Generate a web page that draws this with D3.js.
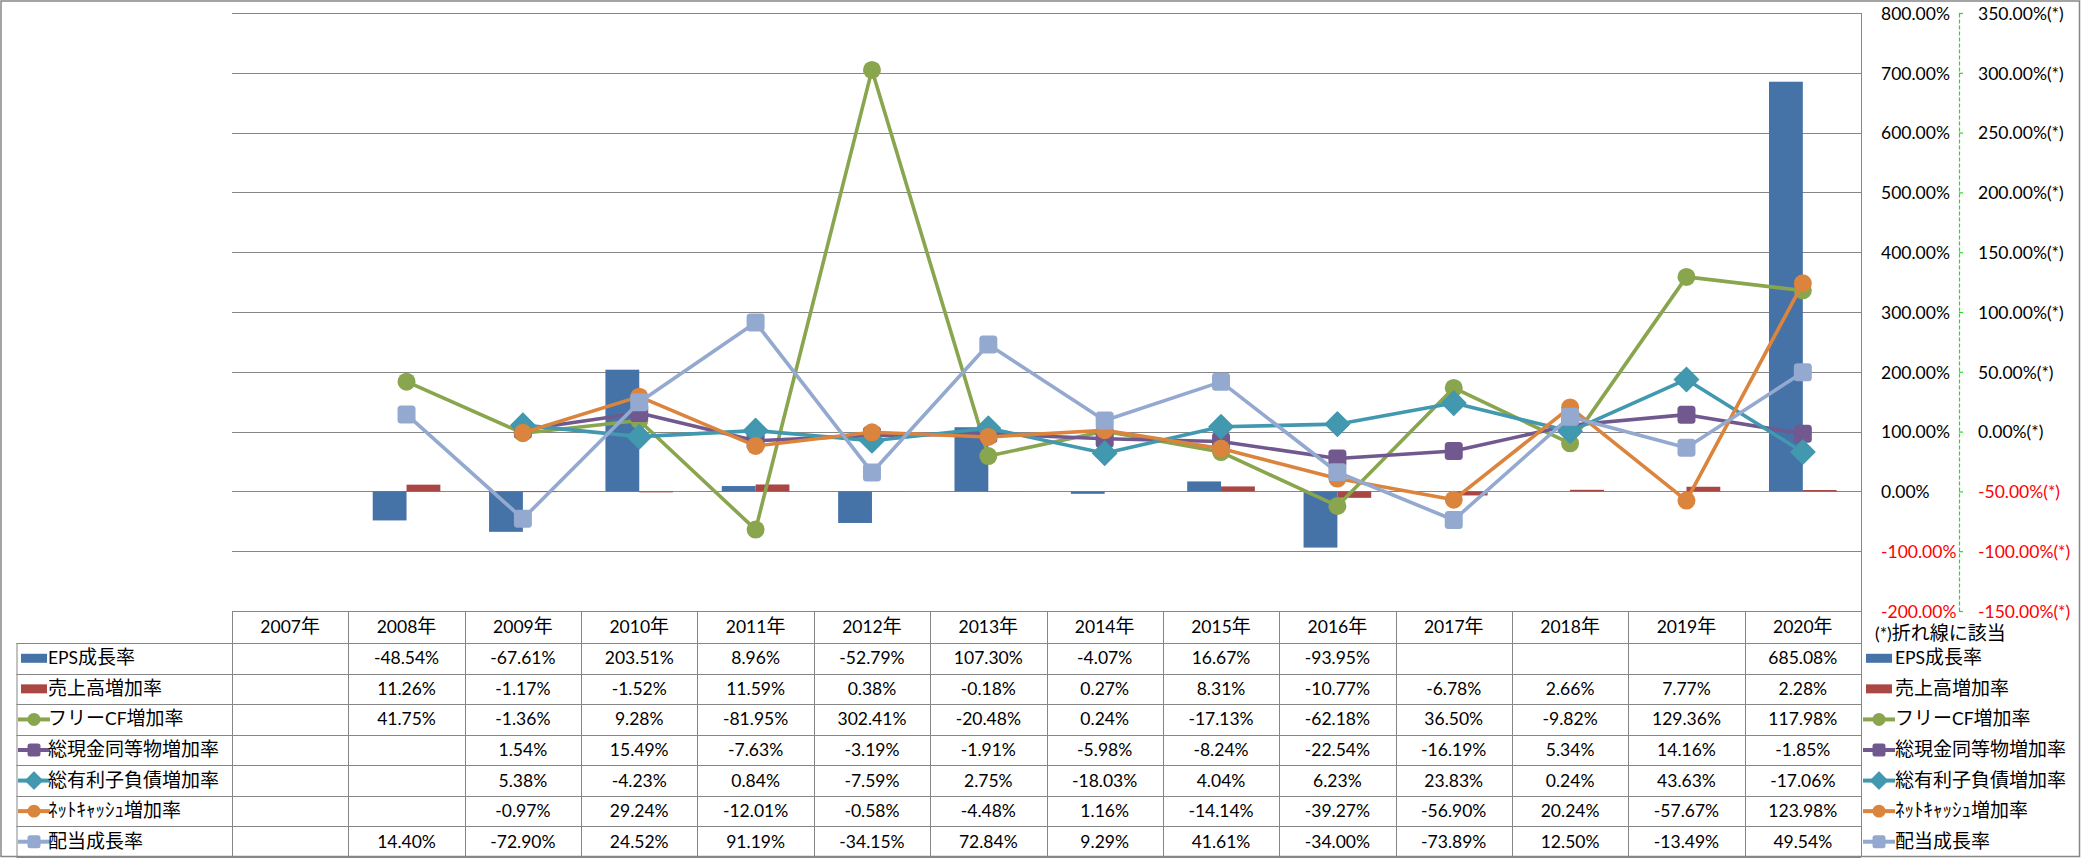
<!DOCTYPE html>
<html><head><meta charset="utf-8">
<script src="https://cdn.jsdelivr.net/npm/d3@7"></script>
<style>html,body{margin:0;padding:0;background:#fff;} svg{display:block;}</style>
</head><body>
<svg id="chart" width="2081" height="858"></svg>
<script>
// ---------- data ----------
const years = ["2007年","2008年","2009年","2010年","2011年","2012年","2013年","2014年","2015年","2016年","2017年","2018年","2019年","2020年"];
const epsGrowth      = [null,-48.54,-67.61,203.51,8.96,-52.79,107.30,-4.07,16.67,-93.95,null,null,null,685.08];
const salesGrowth    = [null,11.26,-1.17,-1.52,11.59,0.38,-0.18,0.27,8.31,-10.77,-6.78,2.66,7.77,2.28];
const freeCFGrowth   = [null,41.75,-1.36,9.28,-81.95,302.41,-20.48,0.24,-17.13,-62.18,36.50,-9.82,129.36,117.98];
const cashGrowth     = [null,null,1.54,15.49,-7.63,-3.19,-1.91,-5.98,-8.24,-22.54,-16.19,5.34,14.16,-1.85];
const debtGrowth     = [null,null,5.38,-4.23,0.84,-7.59,2.75,-18.03,4.04,6.23,23.83,0.24,43.63,-17.06];
const netCashGrowth  = [null,null,-0.97,29.24,-12.01,-0.58,-4.48,1.16,-14.14,-39.27,-56.90,20.24,-57.67,123.98];
const dividendGrowth = [null,14.40,-72.90,24.52,91.19,-34.15,72.84,9.29,41.61,-34.00,-73.89,12.50,-13.49,49.54];
const seriesNames = ["EPS成長率","売上高増加率","フリーCF増加率","総現金同等物増加率","総有利子負債増加率","ﾈｯﾄｷｬｯｼｭ増加率","配当成長率"];
const primaryTicks = [-200,-100,0,100,200,300,400,500,600,700,800];
const secondaryTicks = [-150,-100,-50,0,50,100,150,200,250,300,350];
const secondaryNote = "(*)折れ線に該当";

// ---------- styles ----------
const LAT = "Lato, 'Open Sans', sans-serif";
const CJK = "'Noto Sans CJK JP', 'Noto Sans CJK SC', sans-serif";
const LS = 17.5, CS = 19;
const GRID = "#868686";

const series = [
  {name: seriesNames[0], values: epsGrowth, type: "bar", color: "#4572A7"},
  {name: seriesNames[1], values: salesGrowth, type: "bar", color: "#AA4643"},
  {name: seriesNames[2], values: freeCFGrowth, type: "line", color: "#89A54E", marker: "circle"},
  {name: seriesNames[3], values: cashGrowth, type: "line", color: "#71588F", marker: "square"},
  {name: seriesNames[4], values: debtGrowth, type: "line", color: "#4198AF", marker: "diamond"},
  {name: seriesNames[5], values: netCashGrowth, type: "line", color: "#DB843D", marker: "circle"},
  {name: seriesNames[6], values: dividendGrowth, type: "line", color: "#93A9CF", marker: "square"}
];

const svg = d3.select("#chart");
const W = 2081, H = 858;
const L = 232, R = 1861, T = 13, B = 611;

function mixText(sel, str) {
  sel.text(null);
  const re = /([\u3000-\u9fff\uff00-\uffef]+)|([^\u3000-\u9fff\uff00-\uffef]+)/g;
  let m;
  while ((m = re.exec(str))) {
    const cjk = !!m[1];
    sel.append("tspan")
      .attr("font-family", cjk ? CJK : LAT)
      .attr("font-size", cjk ? CS : LS)
      .text(m[0]);
  }
  return sel;
}

const x = d3.scaleBand().domain(years).range([L, R]).padding(0);
const bw = x.bandwidth();
const y = d3.scaleLinear().domain([-200, 800]).range([B, T]);
const y2 = d3.scaleLinear().domain([-150, 350]).range([B, T]);
const xInner = d3.scaleBand().domain(["bar0","bar1"]).range([0, bw]).paddingInner(0).paddingOuter(0.72);

// outer border
svg.append("rect").attr("x", 1).attr("y", 1).attr("width", W - 2.5).attr("height", H - 2.5)
  .attr("fill", "#fff").attr("stroke", GRID).attr("stroke-width", 1.5);

// gridlines
svg.append("g").selectAll("line").data(primaryTicks).join("line")
  .attr("x1", L).attr("x2", R)
  .attr("y1", d => Math.round(y(d)) + 0.5).attr("y2", d => Math.round(y(d)) + 0.5)
  .attr("stroke", GRID).attr("stroke-width", 1);

// bars
const barG = svg.append("g");
series.filter(s => s.type === "bar").forEach((s, bi) => {
  barG.append("g").selectAll("rect")
    .data(years.map((yr, i) => ({yr, v: s.values[i]})).filter(d => d.v != null))
    .join("rect")
    .attr("x", d => x(d.yr) + xInner("bar" + bi))
    .attr("width", xInner.bandwidth())
    .attr("y", d => y(Math.max(0, d.v)))
    .attr("height", d => Math.abs(y(d.v) - y(0)))
    .attr("fill", s.color);
});

// marker helper
function drawMarker(g, type, cx, cy, color, scale) {
  const k = scale || 1;
  if (type === "circle") {
    g.append("circle").attr("cx", cx).attr("cy", cy).attr("r", 9 * k).attr("fill", color);
  } else if (type === "square") {
    const s = 18 * k;
    g.append("rect").attr("x", cx - s / 2).attr("y", cy - s / 2).attr("width", s).attr("height", s)
      .attr("rx", 3.5 * k).attr("fill", color);
  } else {
    const h = 12 * k;
    g.append("path").attr("d", `M${cx},${cy - h}L${cx + h},${cy}L${cx},${cy + h}L${cx - h},${cy}Z`)
      .attr("fill", color).attr("stroke", color).attr("stroke-width", 1.5 * k).attr("stroke-linejoin", "round");
  }
}

// lines (secondary axis)
const lineGen = d3.line().defined(d => d.v != null)
  .x(d => x(d.yr) + bw / 2).y(d => y2(d.v));
series.filter(s => s.type === "line").forEach(s => {
  const pts = years.map((yr, i) => ({yr, v: s.values[i]}));
  const g = svg.append("g");
  g.append("path").datum(pts).attr("d", lineGen).attr("fill", "none")
    .attr("stroke", s.color).attr("stroke-width", 3.6).attr("stroke-linejoin", "round");
  pts.filter(d => d.v != null).forEach(d => drawMarker(g, s.marker, x(d.yr) + bw / 2, y2(d.v), s.color));
});

// primary axis (right side)
const ax1 = svg.append("g").attr("transform", `translate(${R},0)`)
  .call(d3.axisRight(y).tickValues(primaryTicks).tickSize(0).tickPadding(20)
    .tickFormat(d => d.toFixed(2) + "%"));
ax1.select(".domain").remove();
ax1.selectAll("text").attr("font-family", LAT).attr("font-size", LS)
  .attr("fill", d => d < 0 ? "#FF0000" : "#000").attr("dy", "0.36em");

// right border of plot / table
svg.append("line").attr("x1", R + 0.5).attr("x2", R + 0.5).attr("y1", T).attr("y2", H - 1)
  .attr("stroke", GRID).attr("stroke-width", 1);

// secondary axis
const ax2 = svg.append("g").attr("transform", "translate(1959,0)")
  .call(d3.axisRight(y2).tickValues(secondaryTicks).tickSize(4).tickSizeOuter(0).tickPadding(15)
    .tickFormat(d => d.toFixed(2) + "%(*)"));
ax2.select(".domain").attr("stroke", "#22DD22").attr("stroke-width", 1.2).attr("stroke-dasharray", "4,2");
ax2.selectAll(".tick line").attr("stroke", "#22DD22").attr("stroke-width", 1.2);
ax2.selectAll("text").attr("font-family", LAT).attr("font-size", LS)
  .attr("fill", d => d < 0 ? "#FF0000" : "#000").attr("dy", "0.36em");

// ---------- data table ----------
const tbl = svg.append("g");
const headTop = 611, headBot = 643, rowH = (857 - 643) / 7;
const rowTops = d3.range(8).map(i => headBot + i * rowH);
const tableLeft = 16.5;

// header
tbl.append("line").attr("x1", L).attr("x2", R).attr("y1", headTop + 0.5).attr("y2", headTop + 0.5)
  .attr("stroke", GRID);
years.forEach(yr => {
  tbl.append("line").attr("x1", Math.round(x(yr)) + 0.5).attr("x2", Math.round(x(yr)) + 0.5)
    .attr("y1", headTop).attr("y2", 857).attr("stroke", GRID);
  mixText(tbl.append("text").attr("x", x(yr) + bw / 2).attr("y", (headTop + headBot) / 2 + 6)
    .attr("text-anchor", "middle").attr("fill", "#000"), yr);
});
rowTops.forEach(ry => {
  tbl.append("line").attr("x1", tableLeft).attr("x2", R).attr("y1", Math.round(ry) + 0.5).attr("y2", Math.round(ry) + 0.5)
    .attr("stroke", GRID);
});
tbl.append("line").attr("x1", tableLeft + 0.5).attr("x2", tableLeft + 0.5).attr("y1", headBot).attr("y2", 857)
  .attr("stroke", GRID);

function swatch(g, s, x0, cy) {
  if (s.type === "bar") {
    g.append("rect").attr("x", x0).attr("y", cy - 4.5).attr("width", 26).attr("height", 9).attr("fill", s.color);
  } else {
    g.append("line").attr("x1", x0 - 3).attr("x2", x0 + 29).attr("y1", cy).attr("y2", cy)
      .attr("stroke", s.color).attr("stroke-width", 4);
    drawMarker(g, s.marker, x0 + 13, cy, s.color, 0.72);
  }
}

series.forEach((s, i) => {
  const cy = rowTops[i] + rowH / 2;
  swatch(tbl, s, 21, cy);
  mixText(tbl.append("text").attr("x", 48).attr("y", cy + 6).attr("fill", "#000"), s.name);
  s.values.forEach((v, j) => {
    if (v == null) return;
    tbl.append("text").attr("x", x(years[j]) + bw / 2).attr("y", cy + 6)
      .attr("text-anchor", "middle").attr("font-family", LAT).attr("font-size", LS).attr("fill", "#000")
      .text(v.toFixed(2) + "%");
  });
  // right legend
  swatch(tbl, s, 1866, cy);
  mixText(tbl.append("text").attr("x", 1895).attr("y", cy + 6).attr("fill", "#000"), s.name);
});
mixText(tbl.append("text").attr("x", 1875).attr("y", 640).attr("fill", "#000"), secondaryNote);
</script>
</body></html>
